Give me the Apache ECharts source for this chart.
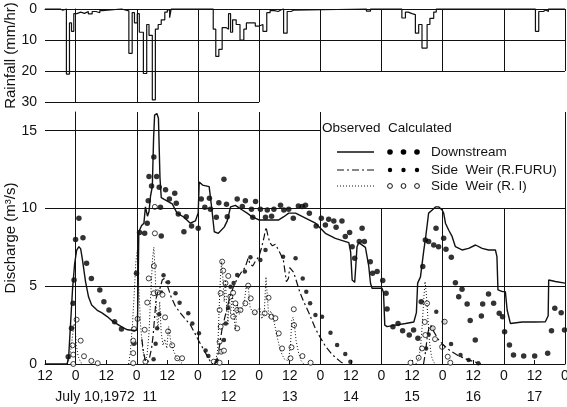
<!DOCTYPE html>
<html><head><meta charset="utf-8">
<script src="https://cdn.jsdelivr.net/npm/echarts@6/dist/echarts.min.js"></script>
<style>html,body{margin:0;padding:0;background:#fff}#c{width:567px;height:407px}</style>
</head><body><div id="c"></div>
<script>
// hours counted from July 10, 1972 00:00
const rainfall = [[-12,0],[-6,0.4],[-5,0],[-3.6,21],[-2.4,4.5],[-1.6,7.2],[-0.7,1.5],[0.5,1.0],[2,1.4],[3.5,0.8],[5,1.6],[6.5,0.8],[8,1.2],[9.5,0.5],[10.5,0],
[18.0,0.6],[20.9,14.3],[22.2,1.2],[23.1,4.5],[24.2,1.5],[25.0,7.5],[26.6,20.8],[27.9,5.0],[28.8,8.5],[30.1,29.3],[31.3,6.5],[32.4,5.0],[33.6,3.5],[35.0,1.0],[36.0,0.3],[36.9,2.8],[37.5,0],
[54.0,6.5],[55.0,15.3],[56.2,13.0],[57.5,6.0],[59.0,6.5],[60.0,1.5],[60.8,7.5],[61.6,3.5],[63.0,5.0],[64.5,10.0],[66.0,6.5],[67.0,4.5],[69.0,4.5],[70.5,5.5],[72.0,5.0],[73.5,7.2],[75.0,1.2],[76.3,0.5],[78.0,0.8],[79.5,0.3],[80.5,0],[81.6,7.8],[83.0,0.8],[84.5,0.4],[85.5,0],
[114.1,0.7],[115.7,0],[128.0,2.9],[129.4,1.0],[130.5,1.5],[132.0,1.8],[133.3,7.8],[134.6,5.0],[135.9,12.6],[137.9,5.0],[139.0,3.0],[140.5,1.0],[141.5,0],
[180.4,7.2],[181.7,0.8],[183.5,0.3],[184.5,0.8],[185.5,0],[192,0]];

const downstreamObs = [[-12,0],[-3.3,0],[-2.7,0.5],[-2.0,2.5],[-1.2,4.8],[-0.4,6.4],[0.4,7.3],[1.3,7.55],[2.0,7.4],[2.7,6.7],[3.9,5.3],[5.1,4.3],[6.3,3.8],[8.5,3.45],[10.2,3.3],[12.4,3.05],[14.5,2.75],[16.5,2.55],[18.4,2.35],[20.4,2.2],[23.1,2.15],[24.2,2.2],[24.5,4.5],[24.8,8.5],[25.9,8.9],[26.8,9.05],[27.4,10.1],[28.2,9.5],[28.8,9.8],[29.4,10.8],[30.1,11.4],[30.6,14.5],[31.0,16.0],[31.9,16.1],[32.5,15.8],[33.1,12],[33.6,10.7],[34.6,10.6],[35.3,10.5],[37.9,10.3],[39.8,9.7],[42.4,9.45],[45.0,9.05],[47.0,9.2],[48.1,9.7],[48.5,11.7],[49.8,11.5],[52.4,11.4],[53.5,9.9],[54.4,8.5],[56.0,8.4],[58.3,8.8],[59.5,9.2],[60.8,10.1],[62.7,10.2],[64.0,10.05],[65.4,9.9],[67.3,9.7],[69.2,9.47],[71.9,9.26],[75.8,9.26],[79.7,9.26],[81.7,9.47],[83.6,9.7],[86.3,9.7],[90.0,9.4],[94.1,9.05],[98.0,8.4],[101.9,8.08],[105.9,7.87],[107.2,7.8],[107.9,7.2],[108.5,5.4],[109.5,5.25],[110.0,6.5],[110.4,7.54],[111.1,7.8],[113.7,7.5],[115.0,6.3],[115.7,5.19],[116.3,4.87],[120.2,4.87],[120.8,4.6],[121.3,2.5],[122.2,2.4],[125.5,2.5],[129.4,2.6],[132.7,2.7],[133.7,3.3],[134.2,5.2],[135.3,5.6],[136.6,7.3],[137.3,8.1],[138.5,9.7],[139.9,9.9],[141.2,10.1],[142.5,10.1],[143.8,9.9],[144.4,9.7],[145.1,9.05],[146.4,8.6],[147.7,8.2],[149.0,7.54],[151.6,7.33],[154.2,7.43],[156.9,7.65],[159.5,7.43],[162.0,7.33],[164.7,7.33],[165.3,6.9],[165.7,4.76],[167.5,4.65],[168.6,4.65],[169.3,3.47],[170.6,2.6],[175.2,2.7],[180.0,2.7],[184.3,2.72],[185.4,3.1],[185.6,5.4],[188.2,5.3],[192,5.2]];

const furuObsEvents = [
 [[26.0,1.6],[26.6,0.8],[27.4,0.2],[28.3,0.1],[29.0,0.4],[29.8,1.0],[30.4,1.8],[31.0,3.0],[31.6,4.2],[32.2,4.6],[33.0,4.8],[34.0,5.4],[34.8,5.5],[35.6,5.2],[36.5,4.8],[37.5,4.3],[39.2,3.7],[41.0,3.3],[42.5,3.0],[45.1,2.5],[48.3,1.5],[51.0,0.7],[52.9,0.15],[53.7,0]],
 [[54.5,0],[55.5,0.3],[56.5,1.2],[57.5,2.3],[59.0,3.3],[60.5,4.3],[62.0,5.0],[63.5,5.5],[65.0,5.9],[66.5,6.2],[67.7,6.8],[68.5,6.4],[69.5,6.3],[70.5,6.6],[71.9,6.9],[73.0,7.5],[74.0,8.2],[74.7,8.8],[75.4,8.3],[76.2,7.8],[77.2,7.6],[78.4,7.7],[80.0,7.2],[81.5,6.7],[82.7,5.3],[83.5,5.5],[84.0,6.2],[84.5,6.3],[85.5,5.9],[86.5,5.4],[88.0,4.6],[89.5,4.0],[91.5,3.3],[94.0,2.3],[96.0,1.7],[98.0,1.15],[100.7,0.6],[103.9,0.15],[105.5,0]],
 [[136.5,0],[137.3,0.8],[138.0,1.8],[138.6,2.3],[139.3,2.5],[140.5,2.1],[142.2,1.6],[144.4,1.2],[147.0,0.85],[150.0,0.55],[153.5,0.3],[156.8,0.12],[159,0]]
];

const riObsEvents = [
 [[-3.3,0],[-2.5,0.3],[-1.8,1.0],[-1.2,1.8],[-0.6,2.6],[-0.2,2.4],[0.3,1.2],[1.0,0.5],[2.0,0.1],[3,0]],
 [[20.8,0],[21.5,0.8],[22.3,2.5],[23.0,4.5],[23.6,6.5],[24.2,7.3],[24.8,5.0],[25.5,2.5],[26.3,1.0],[27.2,0.2],[28.0,0.5],[28.8,2.0],[29.5,4.5],[30.2,6.8],[30.7,7.5],[31.2,6.0],[31.7,3.5],[32.3,2.2],[33.0,4.0],[33.6,2.0],[34.3,1.2],[35.0,1.6],[35.8,1.0],[36.5,2.4],[37.3,1.5],[38.5,0.8],[40,0.3],[42,0]],
 [[53.5,0],[55.0,0.2],[55.8,1.0],[56.3,3.5],[56.8,5.5],[57.3,6.6],[57.8,5.5],[58.3,4.0],[58.8,5.4],[59.3,3.5],[59.8,2.5],[60.3,4.5],[60.8,3.2],[61.5,4.5],[62.2,3.0],[62.7,2.2],[63.5,3.8],[64.2,3.2],[65.0,3.6],[66.0,3.8],[67.0,5.0],[67.8,4.9],[68.5,3.6],[69.3,3.4],[70.5,3.2],[71.5,3.5],[72.3,3.6],[73.0,2.9],[74.0,3.2],[74.7,5.6],[75.3,4.2],[75.8,3.0],[76.5,3.4],[77.2,3.2],[78.0,2.6],[79.0,1.8],[80.0,1.1],[81.0,0.6],[82.0,0.3],[83.5,0.2],[84.3,1.2],[84.8,2.8],[85.3,3.0],[85.8,2.6],[86.5,1.5],[87.5,0.7],[88.5,0.2],[89.5,0]],
 [[133.5,0],[134.5,0.3],[135.3,1.0],[136.0,2.5],[136.6,4.2],[137.1,5.3],[137.6,4.5],[138.2,3.0],[138.8,1.5],[139.6,0.5],[140.5,0.1],[141.5,0]]
];

const downstreamCalc = [[-2.9,0.47],[-1.6,2.3],[-1.0,3.9],[-0.6,5.4],[0,8.0],[1.3,9.37],[2.9,8.12],[4.3,6.47],[6.2,5.5],[9.5,4.76],[11.1,4.0],[13.1,3.47],[15.3,2.72],[18.0,2.25],[22.9,1.33],[23.9,5.83],[25.1,8.45],[27.1,8.4],[28.1,9.05],[28.5,10.5],[28.8,12.05],[29.8,11.45],[30.7,13.3],[31.8,12.05],[32.8,11.36],[33.3,10.07],[33.6,8.23],[35.3,11.2],[36.8,10.6],[38.9,10.98],[39.5,10.33],[40.3,9.65],[42.5,8.5],[43.4,9.47],[45.5,8.87],[48.1,8.73],[49.3,10.6],[50.7,10.07],[52.5,10.65],[52.9,9.95],[55.2,9.43],[56.2,10.37],[58.2,11.87],[59.2,10.27],[59.5,9.47],[63.4,10.6],[65.4,10.12],[66.6,10.5],[69.0,9.95],[69.5,9.43],[70.6,10.44],[72.5,9.95],[74.5,9.43],[75.2,9.9],[76.9,9.5],[77.8,9.95],[80.4,10.2],[81.7,9.9],[83.6,9.95],[85.4,9.37],[87.4,10.15],[88.9,10.12],[90.2,10.2],[91.7,9.69],[94.4,8.87],[96.4,9.37],[98.0,8.94],[99.3,9.3],[101.3,9.2],[102.2,8.79],[104.5,9.2],[105.8,8.19],[107.5,8.45],[108.5,7.54],[109.5,6.8],[111.3,7.87],[112.4,8.73],[113.3,7.87],[115.6,6.58],[116.5,5.83],[118.3,5.94],[120.5,5.36],[121.8,4.55],[122.2,3.54],[124.5,2.4],[126.5,2.6],[128.3,2.14],[130.9,1.86],[132.6,2.19],[134.3,1.65],[135.6,4.0],[136.2,6.26],[137.2,7.97],[138.5,7.87],[140.5,7.65],[141.4,8.73],[142.4,7.54],[144.4,8.08],[145.3,7.37],[147.4,6.86],[149.0,5.23],[150.3,4.33],[151.6,4.8],[153.6,3.86],[154.8,2.79],[156.8,1.54],[159.2,3.09],[159.7,3.86],[162.0,4.5],[164.0,3.9],[166.2,3.26],[167.5,3.04],[168.3,2.08],[170.2,1.22],[171.8,0.58],[175.8,0.51],[180.1,0.51],[185.2,0.69],[186.7,2.14],[188.0,3.58],[190.5,3.3],[191.8,2.19]];

const furuCalc = [[30.6,0.3],[31.4,1.3],[32.0,2.3],[32.8,3.2],[33.6,4.6],[34.5,5.7],[36.3,5.25],[39.2,4.55],[40.8,3.94],[44.2,3.26],[45.8,2.6],[48.4,1.97],[51.0,0.86],[52.1,0.51],
 [55.5,0.2],[57.0,0.8],[58.2,1.54],[58.9,2.6],[59.8,3.6],[60.8,4.97],[62.0,5.2],[63.4,5.72],[66.4,5.94],[68.6,6.86],[72.5,6.69],[74.5,7.33],[81.4,6.9],[86.3,6.8],[89.1,5.5],[90.5,4.65],[92.0,3.9],[94.1,3.15],[96.7,3.04],[100,2.01],[102.6,1.22],[105.8,0.64],[107.8,0.15],
 [137.5,1.0],[138.5,1.9],[139.8,2.3],[141.5,3.36],[144.4,2.72],[147.3,1.29],[151.0,0.58],[154.2,0.26],[158.0,0.05]];

const riCalc = [[-0.9,0.0],[-0.9,0.6],[-1.2,1.2],[0.4,2.85],[2.0,1.5],[3.3,0.5],[6.2,0.2],[8.7,0.05],
 [22.6,0.05],[22.6,0.7],[22.6,1.5],[22.9,2.25],[24.3,2.9],[27.1,2.2],[27.4,0.15],[28.1,3.95],[28.7,5.5],[30.7,6.3],[30.7,4.55],[31.1,8.4],[31.1,10.1],[32.2,4.6],[34.1,4.45],[35.1,3.0],[36.3,2.1],[37.9,1.2],[39.9,0.37],[41.8,0.37],
 [54.2,0.15],[56.5,0.08],[57.1,0.79],[56.5,1.43],[56.9,2.4],[56.5,3.47],[56.9,4.55],[57.5,6.58],[57.9,6.0],[58.8,5.2],[59.9,5.66],[58.2,0.86],[60.7,4.33],[61.8,4.58],[61.8,3.04],[62.7,3.9],[63.4,2.29],[63.4,3.47],[64.7,3.47],[66.6,3.9],[67.7,5.04],[68.7,4.22],[70.3,3.32],[74.2,3.26],[75.7,4.26],[76.9,3.04],[78.4,2.94],[79.7,1.97],[81.0,1.0],[84.3,0.37],[84.7,1.07],[85.6,3.52],[85.7,2.5],[89.0,0.51],[92.2,0.08],
 [131.4,0.08],[134.6,0.4],[135.9,1.0],[137.2,1.86],[137.0,2.7],[137.9,3.9],[140.1,2.3],[141.0,1.6],[143.8,1.1],[144.8,2.72],[146.0,0.47],[147.0,0.08]];

const dayLabelHours = [12,60,84,108,132,156,180];
const dayLabelTexts = ['July 10,1972  11','12','13','14','15','16','17'];
const midnights = [0,24,48,72,96,120,144,168,192];
const rainTicks = [0,10,20,30];
const dischargeTicks = [0,5,10,15];

const K = '#111';
const F = 'Liberation Sans';
function withBreaks(events){const out=[];events.forEach((ev,i)=>{if(i)out.push([ev[0][0]-0.05,'-']);ev.forEach(p=>out.push(p));});return out;}
const ML = (a,b)=>[{coord:a},{coord:b}];
const rainLines = [];
midnights.forEach(d=>{ rainLines.push(d<=72?ML([d,0],[d,30]):ML([d,0],[d,20])); });
rainLines.push(ML([-12,10],[192,10]),ML([-12,20],[192,20]),ML([-12,30],[72,30]));
const qLines = [];
midnights.forEach(d=>{ qLines.push(d<=96||d===192?ML([d,0],[d,16.2]):ML([d,0],[d,10])); });
qLines.push(ML([-12,5],[192,5]),ML([-12,10],[192,10]),ML([-12,15],[96,15]));
const mlBase = {silent:true,symbol:'none',label:{show:false},lineStyle:{color:K,width:1,type:'solid'},emphasis:{disabled:true},animation:false};

const chart = echarts.init(document.getElementById('c'));
const axisTxt = {color:K,fontFamily:F,fontSize:14};
const nameTxt = {color:K,fontFamily:F,fontSize:15};
const legFont = '13.5px "Liberation Sans"';
chart.setOption({
  animation:false,
  backgroundColor:'#fff',
  grid:[{left:45,top:9,width:520,height:93,outerBoundsMode:'none',containLabel:false},{left:45,top:112,width:520,height:252,outerBoundsMode:'none',containLabel:false}],
  xAxis:[
    {gridIndex:0,type:'value',min:-12,max:192,interval:12,position:'top',axisLine:{show:true,lineStyle:{color:K,width:1}},axisTick:{show:false},axisLabel:{show:false},splitLine:{show:false}},
    {gridIndex:1,type:'value',min:-12,max:192,interval:12,position:'bottom',axisLine:{show:true,onZero:false,lineStyle:{color:K,width:1}},axisTick:{show:true,inside:true,length:4,lineStyle:{color:K}},
      axisLabel:Object.assign({margin:5,showMaxLabel:true,showMinLabel:true,formatter:v=>(((v%24)+24)%24===0?'0':'12')},axisTxt),splitLine:{show:false}},
    {gridIndex:1,type:'value',min:-12,max:192,interval:12,position:'bottom',offset:21,axisLine:{show:false},axisTick:{show:false},
      axisLabel:Object.assign({margin:5,formatter:v=>{const i=dayLabelHours.indexOf(v);return i>=0?dayLabelTexts[i]:'';}},axisTxt),splitLine:{show:false}}
  ],
  yAxis:[
    {gridIndex:0,type:'value',min:0,max:30,interval:10,inverse:true,name:'Rainfall (mm/hr)',nameLocation:'middle',nameGap:27,nameMoveOverlap:false,nameRotate:90,nameTextStyle:nameTxt,
      axisLine:{show:true,lineStyle:{color:K,width:1}},axisTick:{show:false},axisLabel:Object.assign({margin:8,formatter:v=>rainTicks.includes(v)?String(v):''},axisTxt),splitLine:{show:false}},
    {gridIndex:1,type:'value',min:0,max:16.2,interval:5,name:'Discharge (m³/s)',nameLocation:'middle',nameGap:27,nameMoveOverlap:false,nameRotate:90,nameTextStyle:nameTxt,
      axisLine:{show:true,lineStyle:{color:K,width:1}},axisTick:{show:false},axisLabel:Object.assign({margin:8,showMaxLabel:false,formatter:v=>dischargeTicks.includes(v)?String(v):''},axisTxt),splitLine:{show:false}}
  ],
  series:[
    {name:'Rainfall',type:'line',xAxisIndex:0,yAxisIndex:0,data:rainfall,step:'end',showSymbol:false,clip:false,lineStyle:{color:K,width:1.2},
      markLine:Object.assign({data:rainLines},mlBase)},
    {name:'Downstream observed',type:'line',xAxisIndex:1,yAxisIndex:1,data:downstreamObs,showSymbol:false,clip:false,lineStyle:{color:K,width:1.4},
      markLine:Object.assign({data:qLines},mlBase)},
    {name:'Side Weir (R.FURU) observed',type:'line',xAxisIndex:1,yAxisIndex:1,data:withBreaks(furuObsEvents),showSymbol:false,connectNulls:false,lineStyle:{color:K,width:1.2,type:[7,3,2,3]}},
    {name:'Side Weir (R.I) observed',type:'line',xAxisIndex:1,yAxisIndex:1,data:withBreaks(riObsEvents),showSymbol:false,connectNulls:false,lineStyle:{color:K,width:1,type:[1,2]}},
    {name:'Downstream calculated',type:'scatter',xAxisIndex:1,yAxisIndex:1,data:downstreamCalc,symbol:'circle',symbolSize:5.5,itemStyle:{color:'#000'}},
    {name:'Side Weir (R.FURU) calculated',type:'scatter',xAxisIndex:1,yAxisIndex:1,data:furuCalc,symbol:'circle',symbolSize:4.5,itemStyle:{color:'#000'}},
    {name:'Side Weir (R.I) calculated',type:'scatter',xAxisIndex:1,yAxisIndex:1,data:riCalc,symbol:'circle',symbolSize:5,itemStyle:{color:'#fff',borderColor:K,borderWidth:1}}
  ],
  graphic:[
    {type:'rect',shape:{x:322,y:113,width:241,height:93},style:{fill:'#fff'},z:50},
    {type:'text',x:322,y:121,style:{text:'Observed  Calculated',font:legFont,fill:K},z:60},
    {type:'line',shape:{x1:337,y1:152,x2:374,y2:152},style:{stroke:K,lineWidth:1.4},z:60},
    {type:'line',shape:{x1:337,y1:170,x2:374,y2:170},style:{stroke:K,lineWidth:1.2,lineDash:[7,3,2,3]},z:60},
    {type:'line',shape:{x1:337,y1:186,x2:374,y2:186},style:{stroke:K,lineWidth:1,lineDash:[1,2]},z:60},
    ...[0,1,2].map(i=>({type:'circle',z:60,shape:{cx:390+i*13.5,cy:152,r:2.8},style:{fill:'#000'}})),
    ...[0,1,2].map(i=>({type:'circle',z:60,shape:{cx:390+i*13.5,cy:170,r:2.2},style:{fill:'#000'}})),
    ...[0,1,2].map(i=>({type:'circle',z:60,shape:{cx:390+i*13.5,cy:186,r:2.4},style:{fill:'#fff',stroke:K,lineWidth:1}})),
    {type:'text',x:431,y:145,style:{text:'Downstream',font:legFont,fill:K},z:60},
    {type:'text',x:431,y:163,style:{text:'Side  Weir (R.FURU)',font:legFont,fill:K},z:60},
    {type:'text',x:431,y:179,style:{text:'Side  Weir (R. I)',font:legFont,fill:K},z:60}
  ]
});
</script></body></html>
